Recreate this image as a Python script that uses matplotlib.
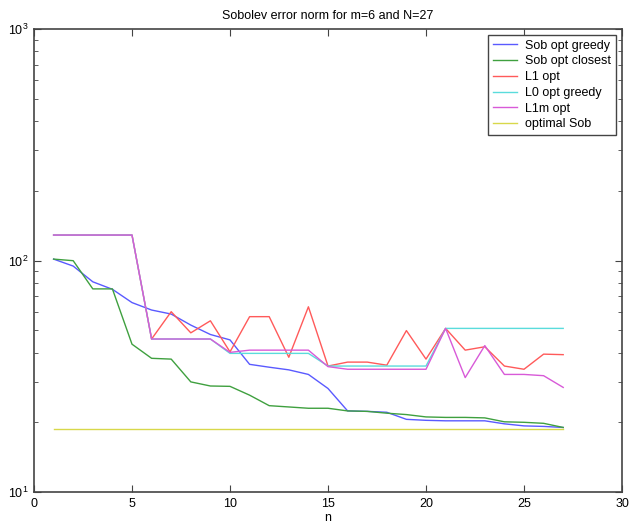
import numpy as np
import matplotlib
matplotlib.use("Agg")
from matplotlib import pyplot as plt
from matplotlib.ticker import LogLocator, NullFormatter

plt.rcParams['font.family'] = ['Liberation Sans', 'DejaVu Sans']
plt.rcParams['mathtext.fontset'] = 'custom'
plt.rcParams['mathtext.rm'] = 'Liberation Sans'

# data
n = np.arange(1, 28)

sob_opt_greedy = [101.4, 94.6, 80.9, 75.1, 65.8, 61.1, 58.7, 52.6, 47.9, 45.4,
                  35.6, 34.6, 33.7, 32.2, 28.0, 22.4, 22.3, 22.1, 20.6, 20.4,
                  20.3, 20.3, 20.3, 19.7, 19.3, 19.2, 19.0]
sob_opt_closest = [101.4, 99.8, 75.4, 75.4, 43.5, 37.8, 37.5, 29.9, 28.7, 28.6,
                   26.2, 23.6, 23.3, 23.0, 23.0, 22.4, 22.3, 21.9, 21.6, 21.1,
                   21.0, 21.0, 20.9, 20.1, 20.0, 19.8, 19.0]
l1_opt = [128.8, 128.8, 128.8, 128.8, 128.8, 45.8, 60.1, 48.7, 54.9, 40.3,
          57.2, 57.2, 38.2, 63.1, 35.0, 36.4, 36.4, 35.3, 49.8, 37.5,
          50.9, 41.0, 42.4, 35.0, 33.9, 39.4, 39.2]
l0_opt_greedy = [128.8, 128.8, 128.8, 128.8, 128.8, 45.8, 45.8, 45.8, 45.8, 39.7,
                 39.7, 39.7, 39.7, 39.7, 35.0, 35.0, 35.0, 35.0, 35.0, 35.0,
                 50.9, 50.9, 50.9, 50.9, 50.9, 50.9, 50.9]
l1m_opt = [128.8, 128.8, 128.8, 128.8, 128.8, 45.8, 45.8, 45.8, 45.8, 40.1,
           41.0, 41.0, 41.0, 41.0, 34.8, 33.9, 33.9, 33.9, 33.9, 33.9,
           50.9, 31.2, 42.9, 32.2, 32.2, 31.8, 28.3]
optimal_sob = [18.8] * 27

series = [
    ("Sob opt greedy", sob_opt_greedy, "#5a5aff"),
    ("Sob opt closest", sob_opt_closest, "#3fa03f"),
    ("L1 opt", l1_opt, "#ff5a5a"),
    ("L0 opt greedy", l0_opt_greedy, "#5adcdc"),
    ("L1m opt", l1m_opt, "#d85ad8"),
    ("optimal Sob", optimal_sob, "#d8d84a"),
]

fig = plt.figure(figsize=(6.29, 5.27), dpi=100)
ax = fig.add_axes([34 / 629, 35 / 527, 588 / 629, 463 / 527])

for label, vals, col in series:
    ax.semilogy(n, vals, color=col, lw=1.0, label=label)

ax.set_xlim(0, 30)
ax.set_ylim(10, 1000)
ax.set_xticks(range(0, 31, 5))
ax.yaxis.set_major_locator(LogLocator(base=10))
ax.yaxis.set_minor_locator(LogLocator(base=10, subs=np.arange(2, 10)))
ax.yaxis.set_minor_formatter(NullFormatter())
ax.tick_params(which='both', direction='in', top=True, right=True, labelsize=9, color='#444444')
ax.tick_params(which='major', length=5, pad=4)
ax.tick_params(which='minor', length=3)
for s in ax.spines.values():
    s.set_color('#444444')
    s.set_linewidth(1.2)

ax.set_xlabel("n", fontsize=9, labelpad=2)
ax.set_title("Sobolev error norm for m=6 and N=27", fontsize=9, pad=7)

leg = ax.legend(loc='upper right', fontsize=9, fancybox=False, framealpha=1,
                edgecolor='#444444', handlelength=1.9, borderaxespad=0.45,
                labelspacing=0.3, borderpad=0.4, handletextpad=0.7)
leg.get_frame().set_linewidth(1.0)

fig.savefig("out.png", dpi=100)
